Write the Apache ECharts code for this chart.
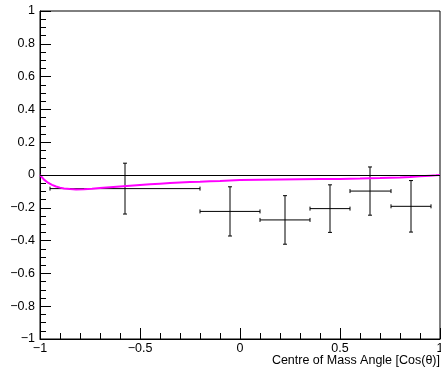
<!DOCTYPE html>
<html>
<head>
<meta charset="utf-8">
<script src="https://cdn.jsdelivr.net/npm/echarts@6/dist/echarts.min.js"></script>
<style>
  html, body { margin: 0; padding: 0; background: #fff; }
  #chart { width: 441px; height: 369px; }
</style>
</head>
<body>
<div id="chart"></div>
<script>
// measured points: bin centre, value, bin edges, error
const binCentre = [-0.575, -0.05, 0.225, 0.45, 0.65, 0.855];
const binLow = [-0.95, -0.2, 0.1, 0.35, 0.55, 0.755];
const binHigh = [-0.2, 0.1, 0.35, 0.55, 0.755, 0.955];
const pointY = [-0.083, -0.222, -0.274, -0.205, -0.098, -0.191];
const pointErr = [0.155, 0.15, 0.148, 0.145, 0.147, 0.157];

// theory curve (magenta)
const curveX = [-1, -0.98, -0.96, -0.94, -0.92, -0.9, -0.88, -0.85, -0.82, -0.78, -0.74, -0.7, -0.65, -0.6, -0.55, -0.5, -0.45, -0.4, -0.35, -0.3, -0.25, -0.2, -0.15, -0.1, -0.05, 0, 0.1, 0.2, 0.3, 0.4, 0.5, 0.6, 0.7, 0.75, 0.8, 0.85, 0.9, 0.95, 0.98, 1];
const curveY = [0, -0.028, -0.047, -0.06, -0.07, -0.077, -0.082, -0.086, -0.088, -0.087, -0.084, -0.08, -0.075, -0.07, -0.065, -0.061, -0.057, -0.053, -0.049, -0.046, -0.043, -0.041, -0.038, -0.036, -0.033, -0.031, -0.029, -0.027, -0.026, -0.025, -0.024, -0.022, -0.019, -0.017, -0.015, -0.012, -0.008, -0.004, -0.002, 0];

const xTitle = 'Centre of Mass Angle [Cos(θ)]';

const font = "'Liberation Sans', Arial, sans-serif";
const fmt = v => {
  const r = parseFloat(v.toFixed(2));
  if (r === 0) return '0';
  return (r < 0 ? '\u2212' : '') + Math.abs(r);
};

const chart = echarts.init(document.getElementById('chart'));

const errData = binCentre.map((x, i) => [x, pointY[i], binLow[i], binHigh[i], pointY[i] - pointErr[i], pointY[i] + pointErr[i]]);

chart.setOption({
  animation: false,
  grid: {
    left: 40, right: 1, top: 11, bottom: 30,
    containLabel: false, outerBoundsMode: 'none',
    show: true, borderColor: '#000', borderWidth: 1
  },
  graphic: [{
    type: 'text', right: 1, top: 354,
    style: { text: xTitle, fill: '#000', fontSize: 12.5, fontFamily: font }
  }],
  xAxis: {
    type: 'value', min: -1, max: 1, interval: 0.5,
    axisLine: { show: true, onZero: false, lineStyle: { color: '#000', width: 1 } },
    axisTick: { show: true, inside: true, length: 11, lineStyle: { color: '#000' } },
    minorTick: { show: true, splitNumber: 5, length: 6, lineStyle: { color: '#000' } },
    splitLine: { show: false },
    axisLabel: { formatter: fmt, color: '#000', fontSize: 12.5, fontFamily: font, margin: 3 }
  },
  yAxis: {
    type: 'value', min: -1, max: 1, interval: 0.2,
    axisLine: { show: true, onZero: false, lineStyle: { color: '#000', width: 1 } },
    axisTick: { show: true, inside: true, length: 11, lineStyle: { color: '#000' } },
    minorTick: { show: true, splitNumber: 4, length: 6, lineStyle: { color: '#000' } },
    splitLine: { show: false },
    axisLabel: { formatter: fmt, color: '#000', fontSize: 12.5, fontFamily: font, margin: 5 }
  },
  series: [
    {
      type: 'custom',
      data: errData,
      z: 2,
      renderItem: (params, api) => {
        const c = api.coord([api.value(0), api.value(1)]);
        const l = api.coord([api.value(2), api.value(1)]);
        const r = api.coord([api.value(3), api.value(1)]);
        const lo = api.coord([api.value(0), api.value(4)]);
        const hi = api.coord([api.value(0), api.value(5)]);
        const st = { stroke: '#000', lineWidth: 1 };
        const cap = 2;
        return {
          type: 'group',
          children: [
            { type: 'line', shape: { x1: l[0], y1: c[1], x2: r[0], y2: c[1] }, style: st },
            { type: 'line', shape: { x1: c[0], y1: lo[1], x2: c[0], y2: hi[1] }, style: st },
            { type: 'line', shape: { x1: l[0], y1: c[1] - cap, x2: l[0], y2: c[1] + cap }, style: st },
            { type: 'line', shape: { x1: r[0], y1: c[1] - cap, x2: r[0], y2: c[1] + cap }, style: st },
            { type: 'line', shape: { x1: c[0] - cap, y1: lo[1], x2: c[0] + cap, y2: lo[1] }, style: st },
            { type: 'line', shape: { x1: c[0] - cap, y1: hi[1], x2: c[0] + cap, y2: hi[1] }, style: st }
          ]
        };
      }
    },
    {
      type: 'line',
      data: curveX.map((x, i) => [x, curveY[i]]),
      showSymbol: false,
      symbol: 'none',
      z: 3,
      lineStyle: { color: '#ff00ff', width: 2 },
      markLine: {
        silent: true, symbol: 'none', label: { show: false },
        lineStyle: { color: '#000', width: 1, type: 'solid' },
        data: [{ yAxis: 0 }]
      }
    }
  ]
});
</script>
</body>
</html>
